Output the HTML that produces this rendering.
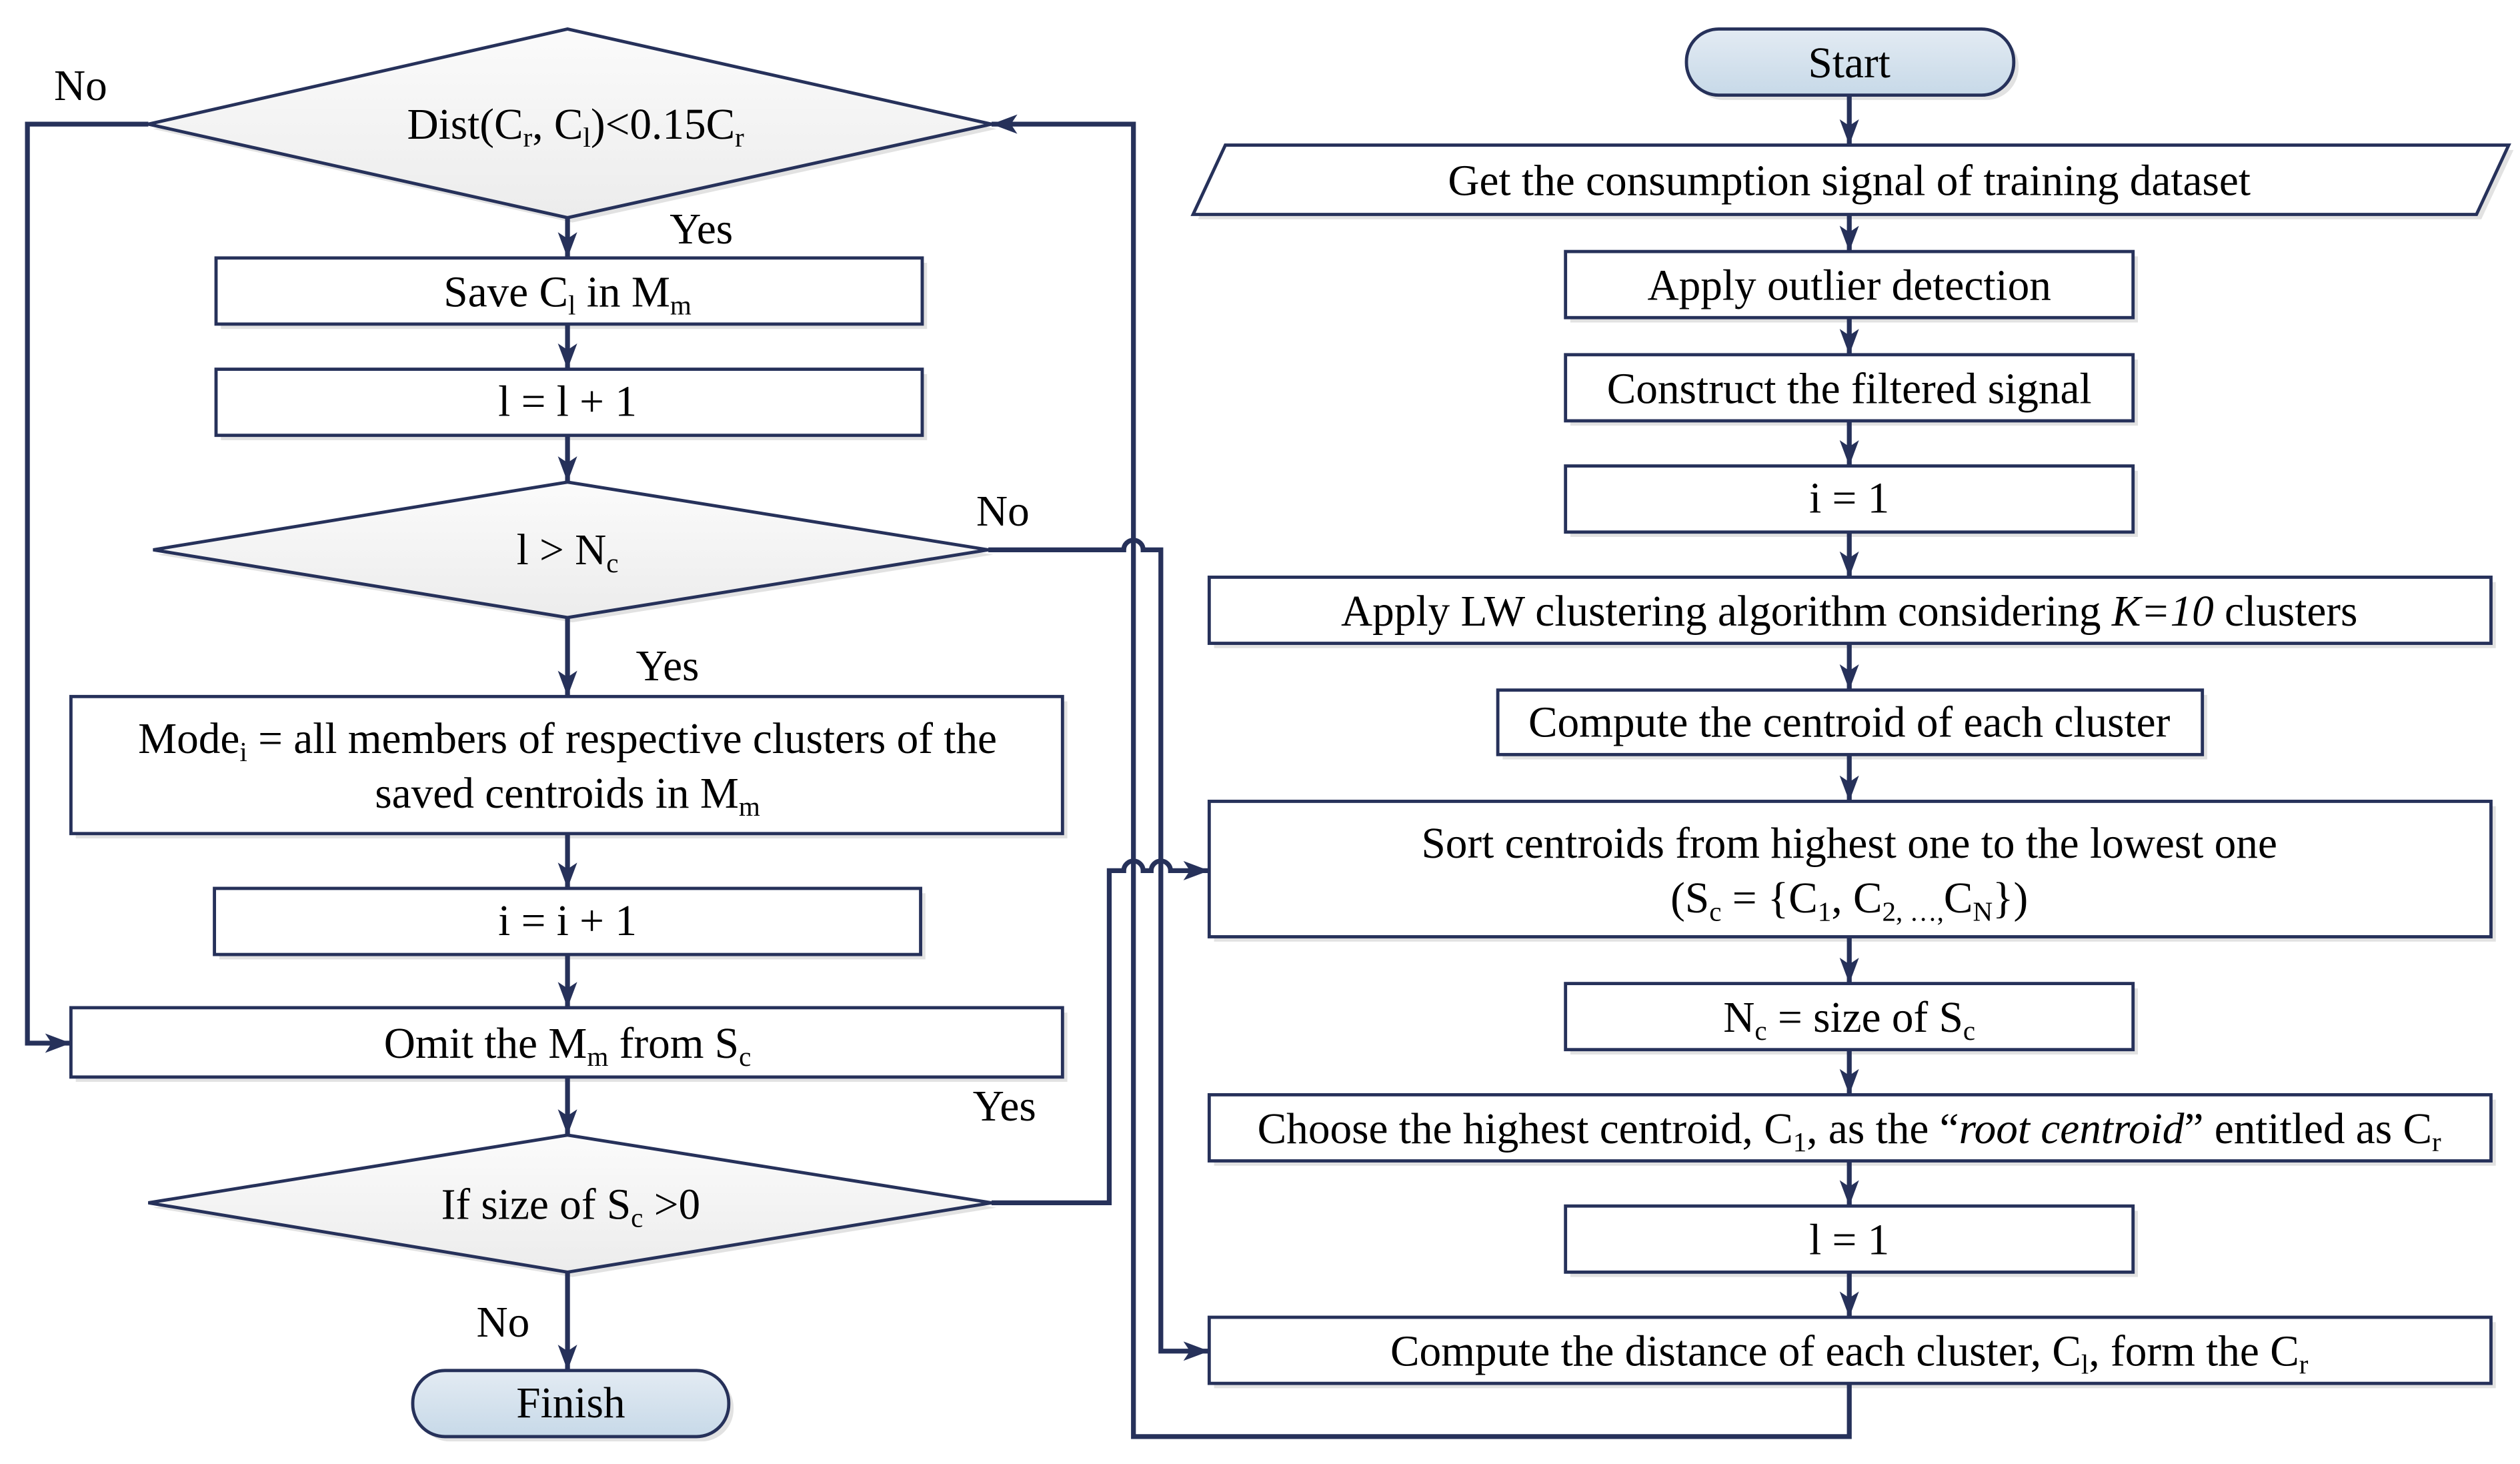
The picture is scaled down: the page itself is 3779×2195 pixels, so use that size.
<!DOCTYPE html>
<html><head><meta charset="utf-8"><style>
html,body{margin:0;padding:0;background:#fff;}
svg{display:block;}
text{font-family:"Liberation Serif",serif;font-size:27px;fill:#000;}
</style></head><body>
<svg width="3779" height="2195" viewBox="0 0 1563 908" preserveAspectRatio="none" xmlns="http://www.w3.org/2000/svg">
<defs>
<linearGradient id="dg" x1="0" y1="0" x2="0" y2="1"><stop offset="0" stop-color="#fbfbfb"/><stop offset="1" stop-color="#ececec"/></linearGradient>
<linearGradient id="tg" x1="0" y1="0" x2="0" y2="1"><stop offset="0" stop-color="#e3ebf3"/><stop offset="1" stop-color="#c7d9e8"/></linearGradient>
<marker id="a" viewBox="0 0 16 12" refX="16" refY="6" markerWidth="16" markerHeight="12" markerUnits="userSpaceOnUse" orient="auto"><path d="M0,0 L16,6 L0,12 L4,6 Z" fill="#26315a"/></marker>
</defs>
<g fill="#e2e2e2">
<polygon points="95,80 355,21 618,80 355,138"/>
<polygon points="98,344 355,302 616,344 355,386"/>
<polygon points="95,749 355,707 618,749 355,792"/>
<rect x="137" y="163" width="438" height="41"/><rect x="137" y="232" width="438" height="41"/>
<rect x="47" y="435" width="615" height="85"/><rect x="136" y="554" width="438" height="41"/>
<rect x="47" y="628" width="615" height="43"/><rect x="259" y="853" width="196" height="41" rx="20"/>
<rect x="1049" y="21" width="203" height="41" rx="20"/>
<polygon points="763,93 1559,93 1539,136 743,136"/>
<rect x="974" y="159" width="352" height="41"/><rect x="974" y="223" width="352" height="41"/>
<rect x="974" y="292" width="352" height="41"/><rect x="753" y="361" width="795" height="41"/>
<rect x="932" y="431" width="437" height="40"/><rect x="753" y="500" width="795" height="84"/>
<rect x="974" y="613" width="352" height="41"/><rect x="753" y="682" width="795" height="41"/>
<rect x="974" y="751" width="352" height="41"/><rect x="753" y="820" width="795" height="41"/>
</g>
<g stroke="#26315a" stroke-width="2" fill="#fff">
<polygon points="92,77 352,18 615,77 352,135" fill="url(#dg)"/>
<polygon points="95,341 352,299 613,341 352,383" fill="url(#dg)"/>
<polygon points="92,746 352,704 615,746 352,789" fill="url(#dg)"/>
<rect x="134" y="160" width="438" height="41"/><rect x="134" y="229" width="438" height="41"/>
<rect x="44" y="432" width="615" height="85"/><rect x="133" y="551" width="438" height="41"/>
<rect x="44" y="625" width="615" height="43"/><rect x="256" y="850" width="196" height="41" rx="20" fill="url(#tg)"/>
<rect x="1046" y="18" width="203" height="41" rx="20" fill="url(#tg)"/>
<polygon points="760,90 1556,90 1536,133 740,133"/>
<rect x="971" y="156" width="352" height="41"/><rect x="971" y="220" width="352" height="41"/>
<rect x="971" y="289" width="352" height="41"/><rect x="750" y="358" width="795" height="41"/>
<rect x="929" y="428" width="437" height="40"/><rect x="750" y="497" width="795" height="84"/>
<rect x="971" y="610" width="352" height="41"/><rect x="750" y="679" width="795" height="41"/>
<rect x="971" y="748" width="352" height="41"/><rect x="750" y="817" width="795" height="41"/>
</g>
<g stroke="#26315a" stroke-width="3" fill="none">
<path d="M352,135 V160" marker-end="url(#a)"/>
<path d="M352,201 V229" marker-end="url(#a)"/>
<path d="M352,270 V299" marker-end="url(#a)"/>
<path d="M352,383 V432" marker-end="url(#a)"/>
<path d="M352,517 V551" marker-end="url(#a)"/>
<path d="M352,592 V625" marker-end="url(#a)"/>
<path d="M352,668 V704" marker-end="url(#a)"/>
<path d="M352,789 V850" marker-end="url(#a)"/>
<path d="M92,77 H17 V647 H44" marker-end="url(#a)"/>
<path d="M613,341 H697 A6,6 0 0 1 709,341 H720 V838 H750" marker-end="url(#a)"/>
<path d="M615,746 H688 V540 H697 A6,6 0 0 1 709,540 H714 A6,6 0 0 1 726,540 H750" marker-end="url(#a)"/>
<path d="M1147,858 V891 H703 V77 H615" marker-end="url(#a)"/>
<path d="M1147,59 V90" marker-end="url(#a)"/>
<path d="M1147,133 V156" marker-end="url(#a)"/>
<path d="M1147,197 V220" marker-end="url(#a)"/>
<path d="M1147,261 V289" marker-end="url(#a)"/>
<path d="M1147,330 V358" marker-end="url(#a)"/>
<path d="M1147,399 V428" marker-end="url(#a)"/>
<path d="M1147,468 V497" marker-end="url(#a)"/>
<path d="M1147,581 V610" marker-end="url(#a)"/>
<path d="M1147,651 V679" marker-end="url(#a)"/>
<path d="M1147,720 V748" marker-end="url(#a)"/>
<path d="M1147,789 V817" marker-end="url(#a)"/>
</g>
<g text-anchor="middle">
<text x="357" y="86">Dist(C<tspan font-size="17" dy="5">r</tspan><tspan dy="-5">, C</tspan><tspan font-size="17" dy="5">l</tspan><tspan dy="-5">)&lt;0.15C</tspan><tspan font-size="17" dy="5">r</tspan></text>
<text x="352" y="190">Save C<tspan font-size="17" dy="5">l</tspan><tspan dy="-5"> in M</tspan><tspan font-size="17" dy="5">m</tspan></text>
<text x="352" y="258">l = l + 1</text>
<text x="352" y="350">l &gt; N<tspan font-size="17" dy="5">c</tspan></text>
<text x="352" y="467">Mode<tspan font-size="17" dy="5">i</tspan><tspan dy="-5"> = all members of respective clusters of the</tspan></text>
<text x="352" y="501">saved centroids in M<tspan font-size="17" dy="5">m</tspan></text>
<text x="352" y="580">i = i + 1</text>
<text x="352" y="656">Omit the M<tspan font-size="17" dy="5">m</tspan><tspan dy="-5"> from S</tspan><tspan font-size="17" dy="5">c</tspan></text>
<text x="354" y="756">If size of S<tspan font-size="17" dy="5">c</tspan><tspan dy="-5"> &gt;0</tspan></text>
<text x="354" y="879">Finish</text>
<text x="1147" y="48">Start</text>
<text x="1147" y="121">Get the consumption signal of training dataset</text>
<text x="1147" y="186">Apply outlier detection</text>
<text x="1147" y="250">Construct the filtered signal</text>
<text x="1147" y="318">i = 1</text>
<text x="1147" y="388">Apply LW clustering algorithm considering <tspan font-style="italic">K=10</tspan> clusters</text>
<text x="1147" y="457">Compute the centroid of each cluster</text>
<text x="1147" y="532">Sort centroids from highest one to the lowest one</text>
<text x="1147" y="566">(S<tspan font-size="17" dy="5">c</tspan><tspan dy="-5"> = {C</tspan><tspan font-size="17" dy="5">1</tspan><tspan dy="-5">,  C</tspan><tspan font-size="17" dy="5">2, …,</tspan><tspan dy="-5">C</tspan><tspan font-size="17" dy="5">N</tspan><tspan dy="-5">})</tspan></text>
<text x="1147" y="640">N<tspan font-size="17" dy="5">c</tspan><tspan dy="-5"> = size of S</tspan><tspan font-size="17" dy="5">c</tspan></text>
<text x="1147" y="709">Choose the highest centroid,  C<tspan font-size="17" dy="5">1</tspan><tspan dy="-5">, as the “</tspan><tspan font-style="italic">root centroid</tspan>” entitled as C<tspan font-size="17" dy="5">r</tspan></text>
<text x="1147" y="778">l = 1</text>
<text x="1147" y="847">Compute the distance of each cluster, C<tspan font-size="17" dy="5">l</tspan><tspan dy="-5">, form the C</tspan><tspan font-size="17" dy="5">r</tspan></text>
<text x="50" y="62">No</text>
<text x="435" y="151">Yes</text>
<text x="622" y="326">No</text>
<text x="414" y="422">Yes</text>
<text x="623" y="695">Yes</text>
<text x="312" y="829">No</text>
</g>
</svg>
</body></html>
